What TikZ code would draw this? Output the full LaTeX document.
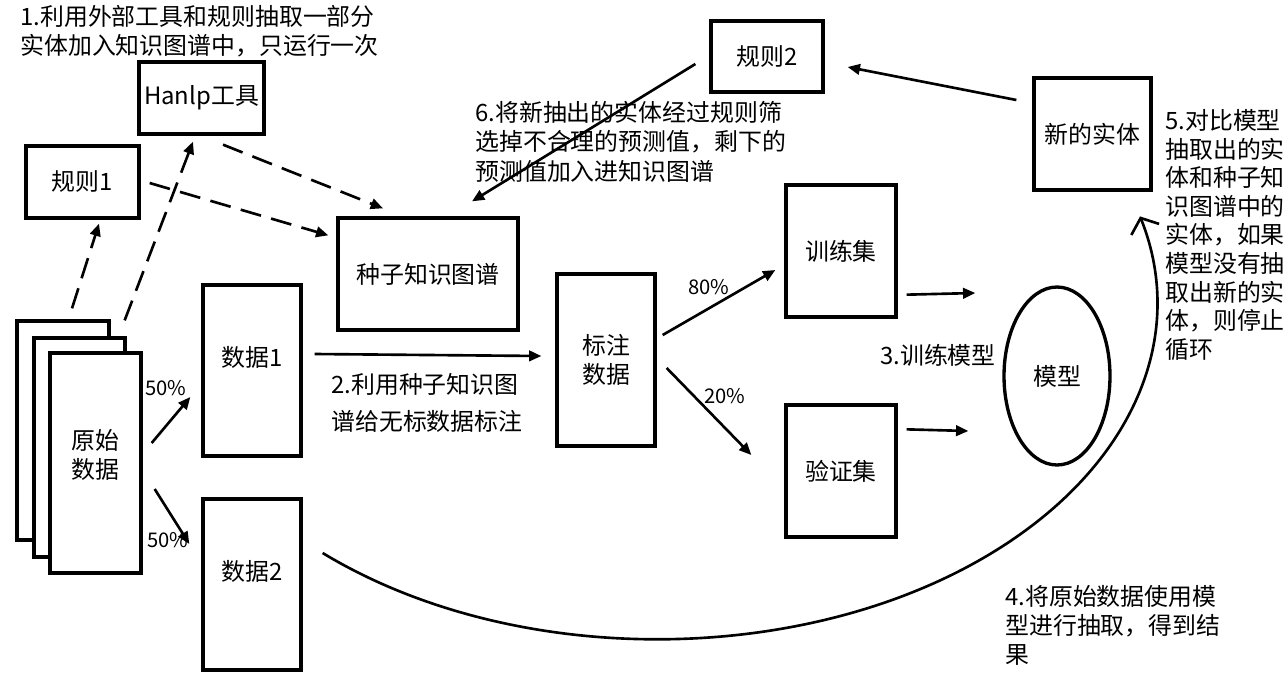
\documentclass[tikz,border=0pt]{standalone}
\usepackage{fontspec}
\setmainfont{Noto Sans CJK SC}
\usetikzlibrary{arrows.meta,calc,shapes.geometric}
\newcommand\mysz{\fontsize{13.6pt}{16.4pt}\selectfont}
\newcommand\pctsz{\fontsize{11.5pt}{13pt}\selectfont}
\begin{document}
\begin{tikzpicture}[x=0.02cm,y=-0.02cm,
 box/.style={draw,line width=1.9pt,inner sep=0pt,font=\mysz,align=center,fill=white},
 arr/.style={line width=1.5pt,-{Triangle[length=7pt,width=6pt]}},
 dsh/.style={arr,dash pattern=on 12pt off 6pt},
 txt/.style={inner sep=0pt,anchor=north west,align=left,font=\mysz},
 pct/.style={inner sep=0pt,font=\pctsz}]
\useasboundingbox[fill=white] (0,0) rectangle (1288,694);

% boxes
\node[box,minimum width=2.5cm,minimum height=1.44cm] (hanlp) at (201.5,98) {Hanlp工具};
\node[box,minimum width=2.26cm,minimum height=1.44cm] (rule1) at (82.5,182) {规则1};
\node[box,minimum width=3.6cm,minimum height=2.24cm] (seed) at (428,274) {种子知识图谱};
\node[box,minimum width=1.84cm,minimum height=4.38cm] (rawA) at (63,430.5) {};
\node[box,minimum width=1.82cm,minimum height=4.38cm] (rawB) at (79.5,447.5) {};
\node[box,minimum width=1.82cm,minimum height=4.4cm,
  label={[font=\mysz,align=center,yshift=0.16cm]center:原始\\数据}] (raw) at (95.5,463) {};
\node[box,minimum width=1.96cm,minimum height=3.42cm,
  label={[font=\mysz,yshift=0.27cm]center:数据1}] (data1) at (252,370.5) {};
\node[box,minimum width=1.96cm,minimum height=3.42cm,
  label={[font=\mysz,yshift=0.27cm]center:数据2}] (data2) at (252,584.5) {};
\node[box,minimum width=1.96cm,minimum height=3.44cm] (label) at (606,360) {标注\\数据};
\node[box,minimum width=2.2cm,minimum height=2.64cm] (train) at (841,251) {训练集};
\node[box,minimum width=2.2cm,minimum height=2.64cm] (valid) at (841,471) {验证集};
\node[box,ellipse,minimum width=2.12cm,minimum height=3.56cm] (model) at (1057,376) {模型};
\node[box,minimum width=2.34cm,minimum height=2.24cm] (newent) at (1092.5,134) {新的实体};
\node[box,minimum width=2.24cm,minimum height=1.42cm] (rule2) at (767,56.5) {规则2};

% texts
\node[txt,font=\fontsize{13.6pt}{16.4pt}\selectfont] (t1) at (20,5) {1.利用外部工具和规则抽取一部分\\实体加入知识图谱中，只运行一次};
\node[txt,font=\fontsize{13.6pt}{16.7pt}\selectfont] (t6) at (475,101) {6.将新抽出的实体经过规则筛\\选掉不合理的预测值，剩下的\\预测值加入进知识图谱};
\node[txt,font=\fontsize{13.6pt}{21pt}\selectfont] (t2) at (331,373) {2.利用种子知识图\\谱给无标数据标注};
\node[txt,font=\fontsize{13.6pt}{16.3pt}\selectfont] (t5) at (1165,109) {5.对比模型\\抽取出的实\\体和种子知\\识图谱中的\\实体，如果\\模型没有抽\\取出新的实\\体，则停止\\循环};
\node[txt,font=\fontsize{13.6pt}{16.4pt}\selectfont] (t4) at (1005,585) {4.将原始数据使用模\\型进行抽取，得到结\\果};
\node[inner sep=0pt,font=\mysz] (t3) at (938,355) {3.训练模型};
\node[pct] (p1) at (166,388) {50\%};
\node[pct] (p2) at (168,540) {50\%};
\node[pct] (p3) at (709,287) {80\%};
\node[pct] (p4) at (725,396) {20\%};

% dashed arrows
\draw[dsh] ($(rawA.north)+(9,-11)$) -- ($(rule1.south)+(16.5,4)$);
\draw[dsh] ($(rawB.north east)+(-2,-16)$) -- ($(hanlp.south)+(-8.5,6)$);
\draw[dsh] ($(hanlp.south)+(21.5,9)$) -- ($(seed.north)+(-45,-8)$);
\draw[dsh] ($(rule1.east)+(9,1)$) -- ($(seed.north west)+(-8,19)$);

% solid arrows
\draw[arr] ($(raw.east)+(9,-20)$) -- ($(data1.west)+(-11,26.5)$);
\draw[arr] ($(raw.east)+(12,26)$) -- ($(data2.west)+(-12,-40.5)$);
\draw[arr] ($(data1.east)+(12,-16.5)$) -- ($(label.west)+(-14,-4)$);
\draw[arr] ($(label.east)+(6,-25)$) -- ($(train.west)+(-9,19)$);
\draw[arr] ($(label.east)+(10,8)$) -- ($(valid.west)+(-33,-16)$);
\draw[arr] ($(train.south east)+(9,-24)$) -- ($(model.west)+(-27,-83)$);
\draw[arr] ($(valid.north east)+(9,26)$) -- ($(model.west)+(-34,55)$);
\draw[arr] ($(newent.west)+(-16,-34)$) -- ($(rule2.east)+(23,10.5)$);
\draw[arr] ($(rule2.west)+(-14,7.5)$) -- ($(seed.north)+(44,-15)$);

% big curve
\draw[line width=1.5pt,-{Straight Barb[length=7pt,width=17pt]}]
  ($(data2.east)+(20,-31.5)$) arc[start angle=-132,end angle=15,x radius=10cm,y radius=6.72cm];
\end{tikzpicture}
\end{document}
